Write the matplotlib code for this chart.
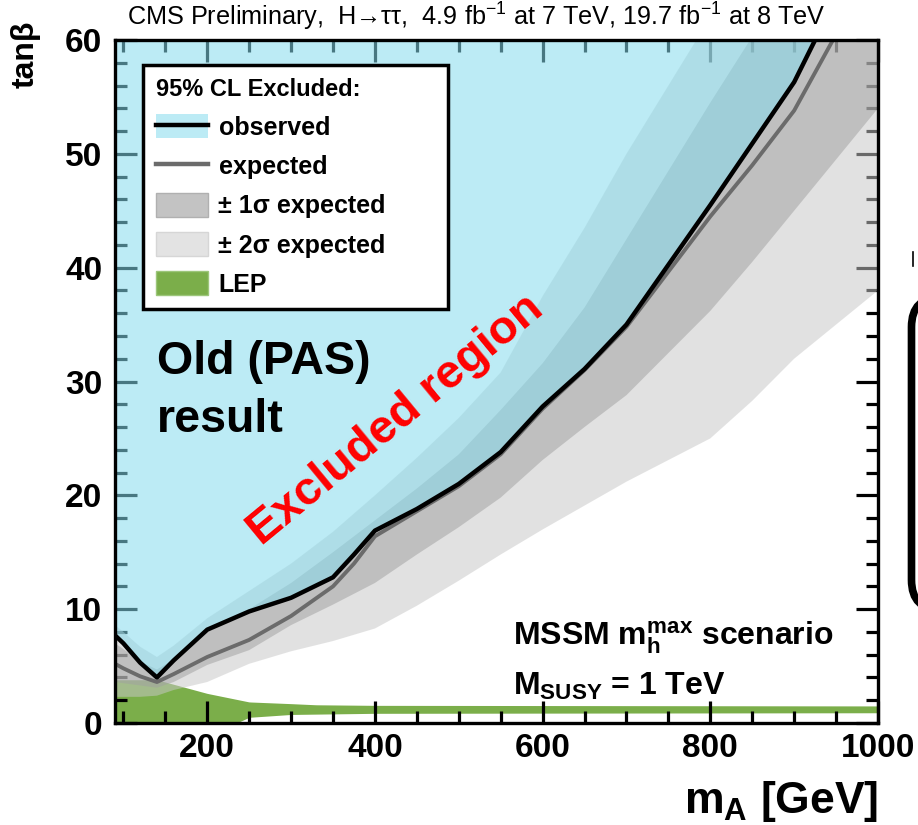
import numpy as np
import matplotlib
matplotlib.use("Agg")
import matplotlib.pyplot as plt
from matplotlib.patches import Patch, FancyBboxPatch
from matplotlib.lines import Line2D
from matplotlib.ticker import MultipleLocator

# ---------------- data ----------------
obs_mA = [90, 100, 120, 140, 160, 200, 250, 300, 350, 375, 400, 450, 500, 550,
          600, 650, 700, 800, 900, 925]
obs_tb = [7.7, 7.0, 5.3, 4.0, 5.5, 8.2, 9.8, 11.0, 12.8, 14.8, 16.9, 18.8, 21.0,
          23.8, 27.8, 31.1, 35.0, 45.5, 56.3, 60.0]

exp_mA = [90, 100, 120, 140, 160, 200, 250, 300, 350, 375, 400, 450, 500, 550,
          600, 650, 700, 800, 850, 900, 950]
exp_tb = [5.2, 4.8, 4.1, 3.6, 4.3, 5.8, 7.3, 9.4, 12.0, 14.0, 16.4, 18.6, 20.8,
          23.6, 27.6, 31.0, 34.8, 44.5, 49.0, 53.8, 60.5]

band_mA = [90, 100, 120, 140, 160, 200, 250, 300, 350, 400, 450, 500, 550, 600,
           650, 700, 800, 850, 900, 950, 1000]
sig1_up = [7.0, 6.5, 5.4, 4.7, 5.6, 8.0, 10.0, 12.3, 15.0, 17.8, 20.6, 23.6, 27.5,
           31.6, 36.5, 42.5, 54.5, 60.3, 66.0, 72.0, 78.0]
sig1_lo = [3.6, 3.5, 3.3, 3.1, 3.6, 5.1, 6.4, 8.6, 10.4, 12.3, 14.8, 17.2, 19.8,
           23.1, 26.0, 28.8, 36.2, 40.5, 45.0, 49.5, 54.0]
sig2_up = [8.6, 8.0, 6.7, 5.8, 6.8, 9.2, 11.6, 14.0, 16.8, 20.0, 23.3, 26.8, 30.8,
           37.5, 43.5, 50.0, 62.0, 69.0, 75.0, 81.0, 87.0]
sig2_lo = [2.3, 2.3, 2.3, 2.4, 2.9, 3.6, 5.2, 6.3, 7.2, 8.3, 10.3, 12.5, 14.8,
           17.0, 19.1, 21.2, 25.0, 28.3, 32.0, 35.0, 38.0]

lep_mA = [90, 140, 170, 200, 250, 300, 330, 400, 1000]
lep_up = [3.8, 3.8, 3.2, 2.6, 1.85, 1.7, 1.6, 1.55, 1.5]
lep_lo_mA = [90, 235, 250, 300, 400, 1000]
lep_lo = [0.0, 0.0, 0.5, 0.75, 0.85, 0.9]

xticks = [200, 400, 600, 800, 1000]
yticks = [0, 10, 20, 30, 40, 50, 60]

# ---------------- style ----------------
plt.rcParams["font.family"] = ["Liberation Sans", "DejaVu Sans"]
plt.rcParams["mathtext.fontset"] = "custom"
plt.rcParams["mathtext.rm"] = "Liberation Sans"
plt.rcParams["mathtext.bf"] = "Liberation Sans:bold"
plt.rcParams["mathtext.it"] = "Liberation Sans:italic"

C_BLUE = (133/255, 219/255, 237/255)
BLUE_ALPHA = 0.55
C_LEP = "#7bae4a"

fig = plt.figure(figsize=(9.18, 8.25), dpi=100)
ax = fig.add_axes([115/918, 1-723/825, (878-115)/918, (723-40)/825])
ax.set_xlim(90, 1000)
ax.set_ylim(0, 60)

# LEP region
lx = np.linspace(90, 1000, 400)
ax.fill_between(lx, np.interp(lx, lep_lo_mA, lep_lo), np.interp(lx, lep_mA, lep_up),
                color=C_LEP, lw=0, zorder=1)
# expected bands
ax.fill_between(band_mA, sig2_lo, sig2_up, color=(200/255,)*3, alpha=0.53, lw=0, zorder=2)
ax.fill_between(band_mA, sig1_lo, sig1_up, color=(160/255,)*3, alpha=0.515, lw=0, zorder=3)
# observed excluded region
ax.fill_between(obs_mA, obs_tb, 60, color=C_BLUE, alpha=BLUE_ALPHA, lw=0, zorder=4)
# lines
ax.plot(exp_mA, exp_tb, color="#6b6b6b", lw=2.8, zorder=5, solid_capstyle="butt")
ax.plot(obs_mA, obs_tb, color="black", lw=3.2, zorder=6, solid_capstyle="butt")

# axes styling
for s in ax.spines.values():
    s.set_linewidth(2.4)
    s.set_zorder(10)
ax.set_xticks(xticks)
ax.set_yticks(yticks)
ax.xaxis.set_minor_locator(MultipleLocator(50))
ax.yaxis.set_minor_locator(MultipleLocator(2))
ax.tick_params(which="both", direction="in", top=True, right=True, width=2.3, zorder=11)
ax.tick_params(which="major", length=16, labelsize=24)
ax.tick_params(axis="x", which="major", pad=7)
ax.tick_params(axis="y", which="major", pad=9)
ax.tick_params(which="minor", length=8.5)
for lab in ax.get_xticklabels() + ax.get_yticklabels():
    lab.set_fontweight("bold")

ax.set_xlabel(r"m$_{\mathbf{A}}$ [GeV]", fontsize=32, fontweight="bold", loc="right")
ax.xaxis.label.set_verticalalignment("baseline")
ax.xaxis.set_label_coords(1.0, (723-813)/683)
ax.set_ylabel("tanβ", fontsize=23, fontweight="bold", loc="top")
ax.yaxis.set_label_coords(-0.098, 1.028)

# legend
handles = [
    (Patch(facecolor="#bcebf5", edgecolor="none"), Line2D([], [], color="black", lw=3.2)),
    Line2D([], [], color="#6b6b6b", lw=3.2),
    Patch(facecolor="#c3c3c3", edgecolor="#b0b0b0"),
    Patch(facecolor="#e3e3e3", edgecolor="#d6d6d6"),
    Patch(facecolor=C_LEP, edgecolor="#9cc67a"),
]
labels = ["observed", "expected", "± 1σ expected", "± 2σ expected", "LEP"]
leg = ax.legend(handles, labels, loc="upper left",
                bbox_to_anchor=((143-115)/763, (723-65)/683, (448-143)/763, 0.0),
                mode="expand", borderaxespad=0, fancybox=False, framealpha=1,
                edgecolor="black", fontsize=18, title="95% CL Excluded:",
                title_fontproperties={"weight": "bold", "size": 17},
                alignment="left", handlelength=2.1, handleheight=1.1,
                handletextpad=0.42, labelspacing=0.55, borderpad=0.5)
leg.get_frame().set_linewidth(2.5)
leg.set_zorder(20)
for t in leg.get_texts():
    t.set_fontweight("bold")

# annotations
ax.text(140, 30.7, "Old (PAS)", fontsize=33.5, fontweight="bold", va="baseline", zorder=12)
ax.text(140, 25.6, "result", fontsize=33.5, fontweight="bold", va="baseline", zorder=12)
ax.text(425, 26.6, "Excluded region", fontsize=34, fontweight="bold", color="red",
        rotation=39.5, ha="center", va="center", rotation_mode="anchor", zorder=12)
ax.text(565, 6.85, r"MSSM m$_{\mathbf{h}}^{\mathbf{max}}$ scenario", fontsize=23,
        fontweight="bold", va="baseline", zorder=12)
ax.text(565, 2.46, r"M$_{\mathbf{SUSY}}$ = 1 TeV", fontsize=23, fontweight="bold",
        va="baseline", zorder=12)

# header
title = fig.text(476/918, 1-26/825,
                 "CMS Preliminary,  H→ττ,  4.9 fb$^{-1}$ at 7 TeV, 19.7 fb$^{-1}$ at 8 TeV",
                 fontsize=14, ha="center", va="baseline")
fig.canvas.draw()
w = title.get_window_extent().width
title.set_fontsize(14 * 700 / w)

# clipped element at the right edge of the slide
fig.add_artist(FancyBboxPatch((9.115, (825-610)/100), 0.6, 3.13,
                              boxstyle="round,pad=0,rounding_size=0.3",
                              transform=fig.dpi_scale_trans, facecolor="white",
                              edgecolor="black", lw=5.5))
fig.add_artist(Line2D([913/918, 913/918], [1-252/825, 1-266/825], color="black", lw=1.2))

fig.savefig("out.png", dpi=100)
